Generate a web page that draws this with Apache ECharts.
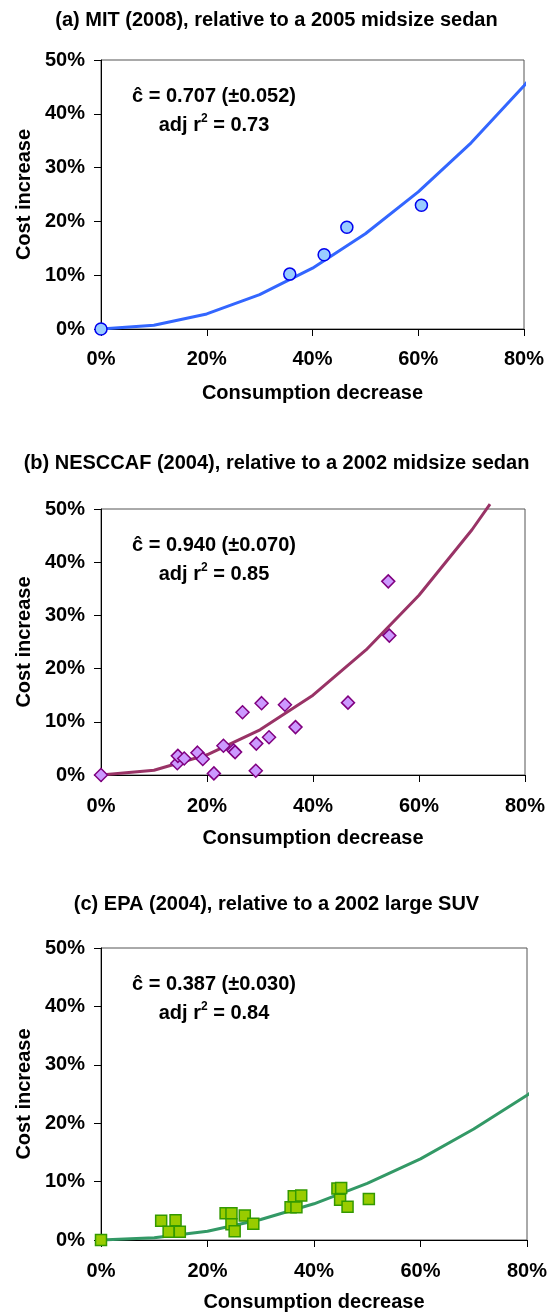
<!DOCTYPE html>
<html>
<head>
<meta charset="utf-8">
<script src="https://cdn.jsdelivr.net/npm/echarts@6/dist/echarts.min.js"></script>
<style>
  html, body { margin: 0; padding: 0; background: #fff; }
  #chart { width: 553px; height: 1314px; }
</style>
</head>
<body>
<div id="chart"></div>
<script>
// fitted curves (consumption decrease %, cost increase %)
const curveX = [0, 10, 20, 30, 40, 50, 60, 70, 80, 81];
const curveA = [0, 0.7, 2.8, 6.4, 11.3, 17.7, 25.5, 34.6, 45.2, 46.4];
const curveXB = [0, 10, 20, 30, 40, 50, 60, 70, 73.4];
const curveB = [0, 0.9, 3.8, 8.5, 15.0, 23.5, 33.8, 46.1, 50.9];
const curveC = [0, 0.4, 1.5, 3.5, 6.2, 9.7, 13.9, 19.0, 24.8, 25.4];

// (a) MIT points
const mitX = [0, 35.7, 42.2, 46.5, 60.6];
const mitY = [0, 10.2, 13.8, 18.9, 23.0];

// (b) NESCCAF points
const nesX = [0, 14.4, 14.5, 15.7, 18.2, 19.2, 21.3, 23.1, 25.0, 25.3, 26.7, 29.3, 29.2, 30.3, 31.7, 34.7, 36.7, 46.6, 54.2, 54.4];
const nesY = [0, 2.2, 3.6, 3.1, 4.2, 3.0, 0.3, 5.5, 4.6, 4.3, 11.8, 5.9, 0.8, 13.5, 7.1, 13.2, 9.0, 13.6, 36.4, 26.2];

// (c) EPA points
const epaX = [0, 11.3, 12.7, 14.0, 14.8, 23.4, 24.5, 24.5, 25.1, 27.0, 28.6, 35.6, 36.7, 36.2, 37.6, 44.4, 45.1, 44.9, 46.3, 50.3];
const epaY = [0, 3.3, 1.4, 3.4, 1.4, 4.6, 4.6, 2.7, 1.5, 4.2, 2.8, 5.6, 5.6, 7.5, 7.6, 8.8, 8.9, 6.9, 5.7, 7.0];

const xTicks = [0, 20, 40, 60, 80];
const yTicks = [0, 10, 20, 30, 40, 50];

const titles = [
  "(a) MIT (2008), relative to a 2005 midsize sedan",
  "(b) NESCCAF (2004), relative to a 2002 midsize sedan",
  "(c) EPA (2004), relative to a 2002 large SUV",
];
const fitText = [
  ["0.707 (±0.052)", "0.73"],
  ["0.940 (±0.070)", "0.85"],
  ["0.387 (±0.030)", "0.84"],
];

const FONT = "'Liberation Sans', Arial, sans-serif";
const pairs = (xs, ys) => xs.map((x, i) => [x, ys[i]]);

const grids = [
  { left: 101, top: 60, width: 423, height: 269 },
  { left: 101, top: 509, width: 424, height: 266 },
  { left: 101, top: 948, width: 426, height: 292 },
];
const titleTops = [10, 453, 894];
const xNameGaps = [54, 53, 52];
const labelMargins = [20, 21, 21];

const chart = echarts.init(document.getElementById("chart"));

const xAxis = grids.map((g, i) => ({
  type: "value",
  gridIndex: i,
  min: xTicks[0],
  max: xTicks[xTicks.length - 1],
  interval: 20,
  name: "Consumption decrease",
  nameLocation: "middle",
  nameGap: xNameGaps[i],
  nameTextStyle: { color: "#000", fontFamily: FONT, fontWeight: "bold", fontSize: 20 },
  axisLine: { lineStyle: { color: "#000", width: 1 } },
  axisTick: { length: 7, lineStyle: { color: "#000" } },
  axisLabel: {
    color: "#000", fontFamily: FONT, fontWeight: "bold", fontSize: 20,
    margin: labelMargins[i], formatter: "{value}%",
  },
  splitLine: { show: false },
}));

const yAxis = grids.map((g, i) => ({
  type: "value",
  gridIndex: i,
  min: yTicks[0],
  max: yTicks[yTicks.length - 1],
  interval: 10,
  name: "Cost increase",
  nameLocation: "middle",
  nameRotate: 90,
  nameGap: 64,
  nameTextStyle: { color: "#000", fontFamily: FONT, fontWeight: "bold", fontSize: 20 },
  axisLine: { lineStyle: { color: "#000", width: 1 } },
  axisTick: { length: 7, lineStyle: { color: "#000" } },
  axisLabel: {
    color: "#000", fontFamily: FONT, fontWeight: "bold", fontSize: 20,
    margin: 16, formatter: "{value}%",
  },
  splitLine: { show: false },
}));

const lineSeries = (i, xs, ys, color) => ({
  type: "line",
  xAxisIndex: i,
  yAxisIndex: i,
  data: pairs(xs, ys),
  showSymbol: false,
  clip: false,
  lineStyle: { color: color, width: 3 },
  z: 2,
});

const scatterSeries = (i, xs, ys, symbol, size, fill, border) => ({
  type: "scatter",
  xAxisIndex: i,
  yAxisIndex: i,
  data: pairs(xs, ys),
  symbol: symbol,
  symbolSize: size,
  itemStyle: { color: fill, borderColor: border, borderWidth: 1.5, opacity: 1 },
  z: 3,
});

const graphic = [];
grids.forEach((g, i) => {
  const y1 = g.top + 36;
  graphic.push({
    type: "text",
    x: 214,
    y: y1,
    style: {
      text: "ĉ = " + fitText[i][0],
      font: "bold 20px " + FONT,
      fill: "#000",
      align: "center",
      verticalAlign: "middle",
    },
  });
  graphic.push({
    type: "text",
    x: 214,
    y: y1 + 29,
    style: {
      text: "{t|adj r}{s|2}{t| = " + fitText[i][1] + "}",
      align: "center",
      verticalAlign: "middle",
      rich: {
        t: { font: "bold 20px " + FONT, fill: "#000", lineHeight: 24 },
        s: { font: "bold 12px " + FONT, fill: "#000", verticalAlign: "top", lineHeight: 24 },
      },
    },
  });
});

chart.setOption({
  animation: false,
  backgroundColor: "#fff",
  title: titles.map((t, i) => ({
    text: t,
    left: "center",
    top: titleTops[i],
    padding: 0,
    textStyle: { color: "#000", fontFamily: FONT, fontWeight: "bold", fontSize: 20 },
  })),
  grid: grids.map((g) => Object.assign({ show: true, borderColor: "#555", borderWidth: 1, backgroundColor: "transparent" }, g)),
  xAxis: xAxis,
  yAxis: yAxis,
  series: [
    lineSeries(0, curveX, curveA, "#3366FF"),
    scatterSeries(0, mitX, mitY, "circle", 12, "#99CCFF", "#0000EE"),
    lineSeries(1, curveXB, curveB, "#993366"),
    scatterSeries(1, nesX, nesY, "diamond", 13, "#CC99FF", "#800080"),
    lineSeries(2, curveX, curveC, "#339966"),
    scatterSeries(2, epaX, epaY, "rect", 11, "#99CC00", "#339900"),
  ],
  graphic: graphic,
});
</script>
</body>
</html>
